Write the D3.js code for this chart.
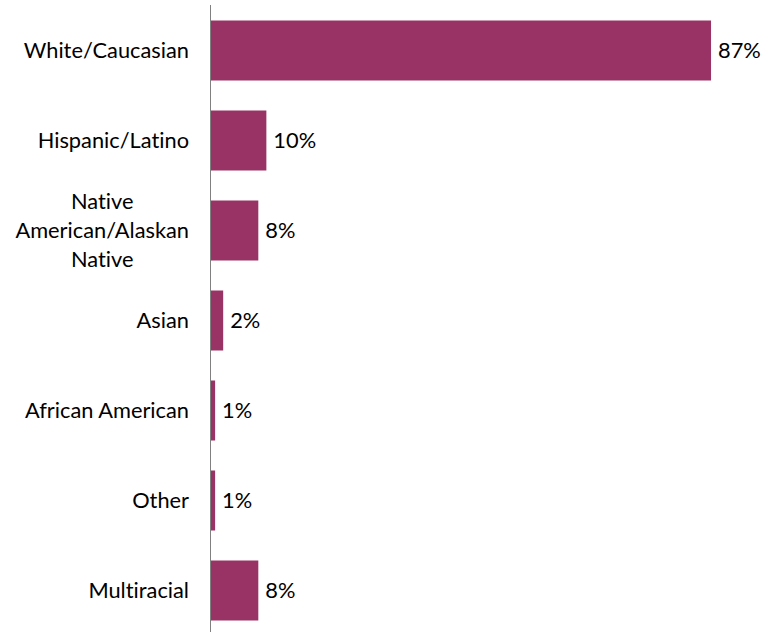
<!DOCTYPE html>
<html>
<head>
<meta charset="utf-8">
<script src="https://cdn.jsdelivr.net/npm/d3@7"></script>
<style>
  body { margin: 0; background: #fff; }
  text { font-family: Lato, "Liberation Sans", sans-serif; fill: #000; font-variant-ligatures: none; }
</style>
</head>
<body>
<div id="chart"></div>
<script>
// categories, one array entry per bar (multi-line labels split on |)
const categories = ["White/Caucasian", "Hispanic/Latino", "Native|American/Alaskan|Native",
  "Asian", "African American", "Other", "Multiracial"];
// share of respondents, percent
const values = [86.9, 9.7, 8.3, 2.2, 0.8, 0.8, 8.3];

const width = 764, height = 632;
const axisX = 210.5;
const fontSize = 21.8;

const svg = d3.select("#chart")
  .append("svg")
  .attr("width", width)
  .attr("height", height);

const y = d3.scaleBand()
  .domain(categories)
  .range([5.5, 635.5])
  .paddingInner(1 / 3)
  .paddingOuter(1 / 6);

const x = d3.scaleLinear()
  .domain([0, 100])
  .range([axisX, axisX + 576]);

const data = categories.map((c, i) => ({ cat: c, value: values[i] }));

svg.append("g")
  .selectAll("rect")
  .data(data)
  .enter().append("rect")
  .attr("x", x(0))
  .attr("y", d => y(d.cat))
  .attr("width", d => x(d.value) - x(0))
  .attr("height", y.bandwidth())
  .attr("fill", "#993366");

// vertical category axis, no ticks
svg.append("line")
  .attr("x1", axisX).attr("x2", axisX)
  .attr("y1", 5).attr("y2", height)
  .attr("stroke", "#808080")
  .attr("stroke-width", 1);

const fmt = d => d3.format(".0f")(d) + "%";

svg.append("g")
  .selectAll("text")
  .data(data)
  .enter().append("text")
  .attr("x", d => x(d.value) + 7)
  .attr("y", d => y(d.cat) + y.bandwidth() / 2)
  .attr("dy", "0.35em")
  .attr("font-size", fontSize)
  .text(d => fmt(d.value));

// category labels: block right-aligned, lines centred inside the block
const lineH = 29;
const labels = svg.append("g")
  .selectAll("g")
  .data(data)
  .enter().append("g");

labels.each(function (d) {
  const g = d3.select(this);
  const lines = d.cat.split("|");
  const cy = y(d.cat) + y.bandwidth() / 2;
  const t = g.selectAll("text")
    .data(lines)
    .enter().append("text")
    .attr("font-size", fontSize)
    .attr("dy", "0.35em")
    .attr("y", (l, i) => cy + (i - (lines.length - 1) / 2) * lineH)
    .text(l => l);
  const maxW = d3.max(t.nodes(), n => n.getComputedTextLength());
  t.attr("text-anchor", "middle").attr("x", 189 - maxW / 2);
});
</script>
</body>
</html>
